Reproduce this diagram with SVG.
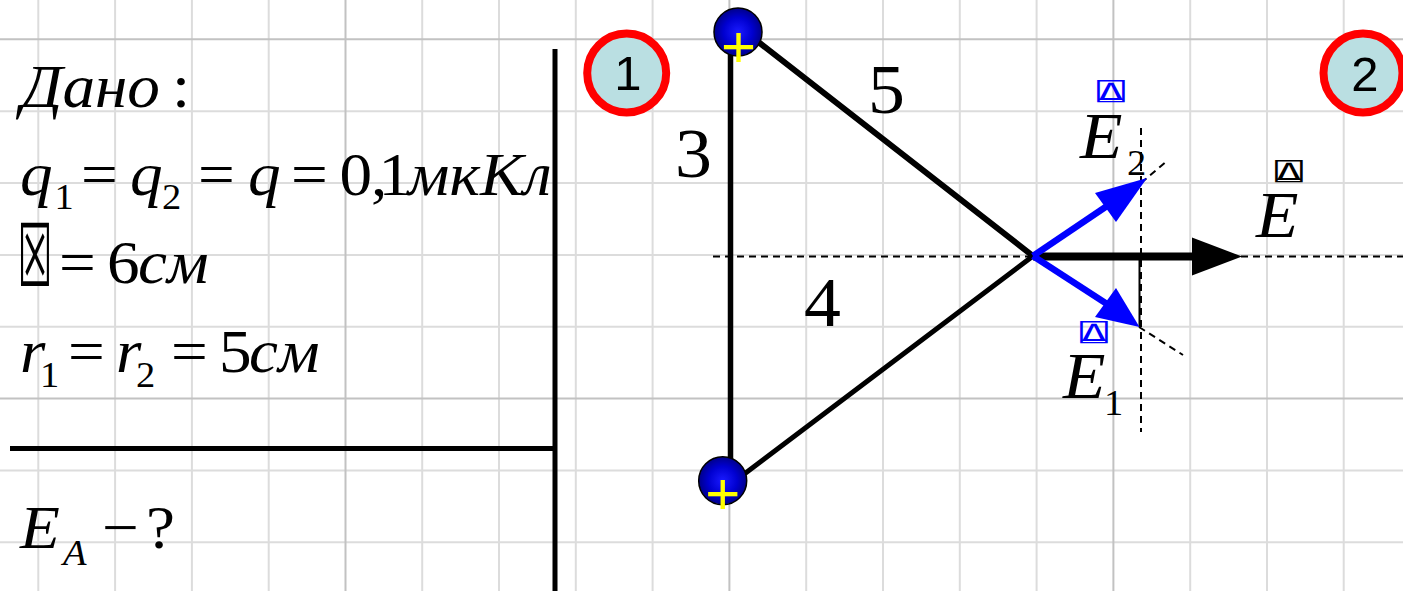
<svg xmlns="http://www.w3.org/2000/svg" width="1403" height="591" viewBox="0 0 1403 591">
<defs>
<radialGradient id="chargeFill" cx="50%" cy="50%" r="50%">
<stop offset="0" stop-color="#1a1aff"/>
<stop offset="0.6" stop-color="#0000d0"/>
<stop offset="1" stop-color="#00008a"/>
</radialGradient>
<style>
.g{stroke:#dcdcdc;stroke-width:2}
.gd{stroke:#c2c2c2;stroke-width:2}
.t{font-family:"Liberation Serif","Times New Roman",serif;fill:#000}
.i{font-style:italic}
.m{font-size:61px}
.s{font-size:36px}
.ln{stroke:#000;fill:none;stroke-linecap:round}
.dash{stroke:#000;stroke-width:2;stroke-dasharray:7 5;fill:none}
.bl{stroke:#0000ff;stroke-width:6.5;fill:none}
.vec{font-family:"DejaVu Sans Mono","DejaVu Sans",monospace;font-size:28px}
.num{font-family:"Liberation Sans",Arial,sans-serif;font-size:49px;text-anchor:middle;fill:#000}
.badge{fill:#badfe2;stroke:#ff0000;stroke-width:8}
.charge{fill:url(#chargeFill);stroke:#000;stroke-width:1.5}
.plus{font-family:"Liberation Sans",Arial,sans-serif;font-size:60px;fill:#ffff00;text-anchor:middle}
</style>
</defs>
<rect width="1403" height="591" fill="#fff"/>
<g id="grid">
<line class="g" x1="38.3" y1="0" x2="38.3" y2="591"/>
<line class="g" x1="115.1" y1="0" x2="115.1" y2="591"/>
<line class="g" x1="191.9" y1="0" x2="191.9" y2="591"/>
<line class="g" x1="268.7" y1="0" x2="268.7" y2="591"/>
<line class="g" x1="422.2" y1="0" x2="422.2" y2="591"/>
<line class="g" x1="499" y1="0" x2="499" y2="591"/>
<line class="g" x1="575.8" y1="0" x2="575.8" y2="591"/>
<line class="g" x1="652.6" y1="0" x2="652.6" y2="591"/>
<line class="g" x1="806.2" y1="0" x2="806.2" y2="591"/>
<line class="g" x1="883" y1="0" x2="883" y2="591"/>
<line class="g" x1="959.8" y1="0" x2="959.8" y2="591"/>
<line class="g" x1="1036.6" y1="0" x2="1036.6" y2="591"/>
<line class="g" x1="1190.2" y1="0" x2="1190.2" y2="591"/>
<line class="g" x1="1267" y1="0" x2="1267" y2="591"/>
<line class="g" x1="1343.7" y1="0" x2="1343.7" y2="591"/>
<line class="g" x1="0" y1="111.2" x2="1403" y2="111.2"/>
<line class="g" x1="0" y1="183" x2="1403" y2="183"/>
<line class="g" x1="0" y1="254.9" x2="1403" y2="254.9"/>
<line class="g" x1="0" y1="326.7" x2="1403" y2="326.7"/>
<line class="g" x1="0" y1="470.4" x2="1403" y2="470.4"/>
<line class="g" x1="0" y1="542.3" x2="1403" y2="542.3"/>
<line class="gd" x1="345.5" y1="0" x2="345.5" y2="591"/>
<line class="gd" x1="729.4" y1="0" x2="729.4" y2="591"/>
<line class="gd" x1="1113.4" y1="0" x2="1113.4" y2="591"/>
<line class="gd" x1="0" y1="39.3" x2="1403" y2="39.3"/>
<line class="gd" x1="0" y1="398.6" x2="1403" y2="398.6"/>
</g>
<g id="given-panel">
<line x1="555" y1="49" x2="555" y2="591" stroke="#000" stroke-width="5"/>
<line x1="10" y1="448.5" x2="555" y2="448.5" stroke="#000" stroke-width="5"/>
<g transform="scale(1.069 1)">
<text class="t i m" x="19.6" y="107">Дано</text>
<text class="t m" x="161" y="107">:</text>
<text class="t i m" x="18.7" y="195">q</text>
<text class="t s" x="51" y="209">1</text>
<text class="t m" x="75.8" y="195">=</text>
<text class="t i m" x="121.6" y="195">q</text>
<text class="t s" x="151.5" y="209">2</text>
<text class="t m" x="185.2" y="195">=</text>
<text class="t i m" x="232" y="195">q</text>
<text class="t m" x="272.2" y="195">=</text>
<text class="t m" x="317.6" y="195">0</text>
<text class="t m" x="347" y="195">,</text>
<text class="t m" x="354" y="195">1</text>
<text class="t i m" x="381.5" y="195">мкКл</text>
<text class="t m" x="55.2" y="283">=</text>
<text class="t m" x="100.1" y="283">6</text>
<text class="t i m" x="129.1" y="283">см</text>
<text class="t i m" x="18.7" y="372">r</text>
<text class="t s" x="37.5" y="387">1</text>
<text class="t m" x="63.6" y="372">=</text>
<text class="t i m" x="108.5" y="372">r</text>
<text class="t s" x="127.2" y="387">2</text>
<text class="t m" x="160" y="372">=</text>
<text class="t m" x="204.9" y="372">5</text>
<text class="t i m" x="232.9" y="372">см</text>
<text class="t i m" x="18.7" y="548">E</text>
<text class="t i s" x="59" y="565">A</text>
<text class="t m" x="95.4" y="548">−</text>
<text class="t m" x="136.6" y="548">?</text>
</g>
<text font-family="DejaVu Sans,sans-serif" font-size="30" transform="translate(17.5,286) scale(1.3 2.9)">☒</text>
</g>
<g id="connectors">
<line class="dash" x1="713" y1="256.5" x2="1403" y2="256.5"/>
<line class="dash" x1="1141" y1="128" x2="1141" y2="432"/>
<line x1="1139.5" y1="256" x2="1139.5" y2="327" stroke="#000" stroke-width="2"/>
<line class="dash" x1="1141" y1="183" x2="1168" y2="160"/>
<line class="dash" x1="1139" y1="327" x2="1183" y2="355"/>
<line class="ln" x1="730.5" y1="50" x2="730.5" y2="470" stroke-width="5.5"/>
<line class="ln" x1="752" y1="37" x2="1033" y2="256" stroke-width="6"/>
<line class="ln" x1="735" y1="481" x2="1033" y2="256" stroke-width="5"/>
<line x1="1033" y1="256.5" x2="1195" y2="256.5" stroke="#000" stroke-width="8"/>
<polygon points="1192,237.5 1242,256.5 1192,275.5" fill="#000"/>
<line class="bl" x1="1033" y1="256" x2="1107" y2="206"/>
<polygon points="1095,193 1147,178 1116,222" fill="#0000ff"/>
<line class="bl" x1="1033" y1="256" x2="1107" y2="304"/>
<polygon points="1095,317 1139.5,327 1116,288" fill="#0000ff"/>
</g>
<g id="charge-top">
<circle class="charge" cx="738" cy="32" r="24"/>
<text class="plus" x="738.5" y="67">+</text>
</g>
<g id="charge-bottom">
<circle class="charge" cx="722.7" cy="480.7" r="24"/>
<text class="plus" x="722.7" y="514">+</text>
</g>
<g id="side-labels">
<text class="t" font-size="69" transform="translate(675,177) scale(1.069 1)">3</text>
<text class="t" font-size="69" transform="translate(868,113) scale(1.069 1)">5</text>
<text class="t" font-size="69" transform="translate(804,326) scale(1.069 1)">4</text>
</g>
<g id="label-E2">
<text class="vec" fill="#0000ff" transform="translate(1097,100) scale(1.65 0.85)">⍍</text>
<text class="t i" font-size="65" fill="#0000ff" transform="translate(1080,158) scale(1.069 1)">E</text>
<text class="t" font-size="36" fill="#0000ff" transform="translate(1127,175) scale(1.069 1)">2</text>
</g>
<g id="label-E1">
<text class="vec" fill="#0000ff" transform="translate(1080,341) scale(1.65 0.85)">⍍</text>
<text class="t i" font-size="65" fill="#0000ff" transform="translate(1063,398) scale(1.069 1)">E</text>
<text class="t" font-size="36" fill="#0000ff" transform="translate(1104,415) scale(1.069 1)">1</text>
</g>
<g id="label-E">
<text class="vec" fill="#000" transform="translate(1275,180) scale(1.65 0.85)">⍍</text>
<text class="t i" font-size="65" transform="translate(1256,237) scale(1.069 1)">E</text>
</g>
<g id="badge-1">
<circle class="badge" cx="626.7" cy="73" r="39.5"/>
<text class="num" x="628" y="90">1</text>
</g>
<g id="badge-2">
<circle class="badge" cx="1363" cy="73" r="39.5"/>
<text class="num" x="1365" y="90.5">2</text>
</g>
</svg>
